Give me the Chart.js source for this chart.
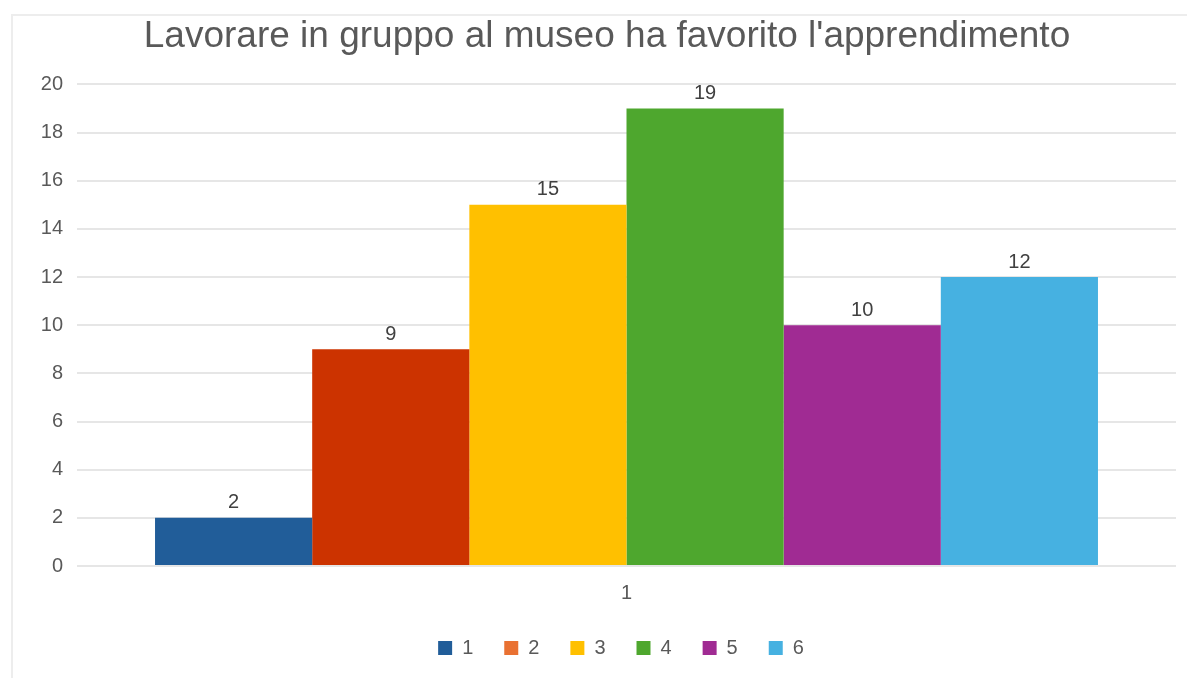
<!DOCTYPE html>
<html>
<head>
<meta charset="utf-8">
<script src="https://cdn.jsdelivr.net/npm/chart.js@4"></script>
<style>
    html, body { margin: 0; padding: 0; background: #fff; overflow: hidden; }
    #frame {
        position: absolute; left: 11px; top: 14px; right: 0; bottom: 0;
        border-left: 2px solid #ededed; border-top: 2px solid #ededed;
    }
    #wrap { position: absolute; left: 0; top: 0; width: 1187px; height: 668px; }
</style>
</head>
<body>
<div id="frame"></div>
<div id="wrap"><canvas id="chart"></canvas></div>
<script>
    const categories = ['1'];
    const seriesNames = ['1', '2', '3', '4', '5', '6'];
    const seriesValues = [2, 9, 15, 19, 10, 12];
    const barColors = ['#215d99', '#cc3300', '#ffc000', '#4ea72e', '#a02b93', '#46b1e1'];
    const legendColors = ['#215d99', '#e97132', '#ffc000', '#4ea72e', '#a02b93', '#46b1e1'];
    const yTicks = [0, 2, 4, 6, 8, 10, 12, 14, 16, 18, 20];

    const font = "'Liberation Sans', Arial, sans-serif";

    // writes each bar's value just above it
    const valueLabels = {
        id: 'valueLabels',
        afterDatasetsDraw(chart) {
            const ctx = chart.ctx;
            ctx.save();
            ctx.font = '20px ' + font;
            ctx.fillStyle = '#404040';
            ctx.textAlign = 'center';
            ctx.textBaseline = 'middle';
            chart.data.datasets.forEach((ds, i) => {
                chart.getDatasetMeta(i).data.forEach((bar, j) => {
                    ctx.fillText(ds.data[j], bar.x, bar.y - 15);
                });
            });
            ctx.restore();
        }
    };

    // nudge the legend row so it sits under the middle of the plot
    const legendShift = {
        id: 'legendShift',
        afterLayout(chart) {
            chart.legend.left += 14;
            chart.legend.right += 14;
        }
    };

    const datasets = seriesNames.map((name, i) => ({
        label: name,
        data: [seriesValues[i]],
        backgroundColor: barColors[i],
        borderWidth: 0,
        categoryPercentage: 0.858,
        barPercentage: 1
    }));

    new Chart(document.getElementById('chart'), {
        type: 'bar',
        data: { labels: categories, datasets: datasets },
        options: {
            responsive: true,
            maintainAspectRatio: false,
            animation: false,
            devicePixelRatio: 1,
            layout: { padding: { left: 38, right: 11, top: 0, bottom: 0 } },
            plugins: {
                title: {
                    display: true,
                    text: "Lavorare in gruppo al museo ha favorito l'apprendimento",
                    color: '#595959',
                    font: { family: font, size: 37, weight: 'normal', lineHeight: 1.2 },
                    padding: { top: 15, bottom: 25 }
                },
                legend: {
                    position: 'bottom',
                    labels: {
                        boxWidth: 14,
                        boxHeight: 14,
                        padding: 31,
                        color: '#595959',
                        font: { family: font, size: 20 },
                        generateLabels(chart) {
                            return chart.data.datasets.map((ds, i) => ({
                                text: ds.label,
                                fillStyle: legendColors[i],
                                strokeStyle: legendColors[i],
                                lineWidth: 0,
                                fontColor: '#595959',
                                datasetIndex: i
                            }));
                        }
                    }
                },
                tooltip: { enabled: false }
            },
            scales: {
                x: {
                    grid: { display: false, drawTicks: false },
                    border: { display: false },
                    ticks: { color: '#595959', padding: 15, font: { family: font, size: 20 } },
                    afterFit(scale) {
                        scale.height = 41;
                    }
                },
                y: {
                    min: 0,
                    max: 20,
                    afterBuildTicks(scale) {
                        scale.ticks = yTicks.map(v => ({ value: v }));
                    },
                    afterFit(scale) {
                        scale.width = 39;
                    },
                    grid: { color: '#e6e6e6', lineWidth: 2, drawTicks: false },
                    border: { display: false },
                    ticks: { color: '#595959', padding: 14, font: { family: font, size: 20 } }
                }
            }
        },
        plugins: [valueLabels, legendShift]
    });
</script>
</body>
</html>
